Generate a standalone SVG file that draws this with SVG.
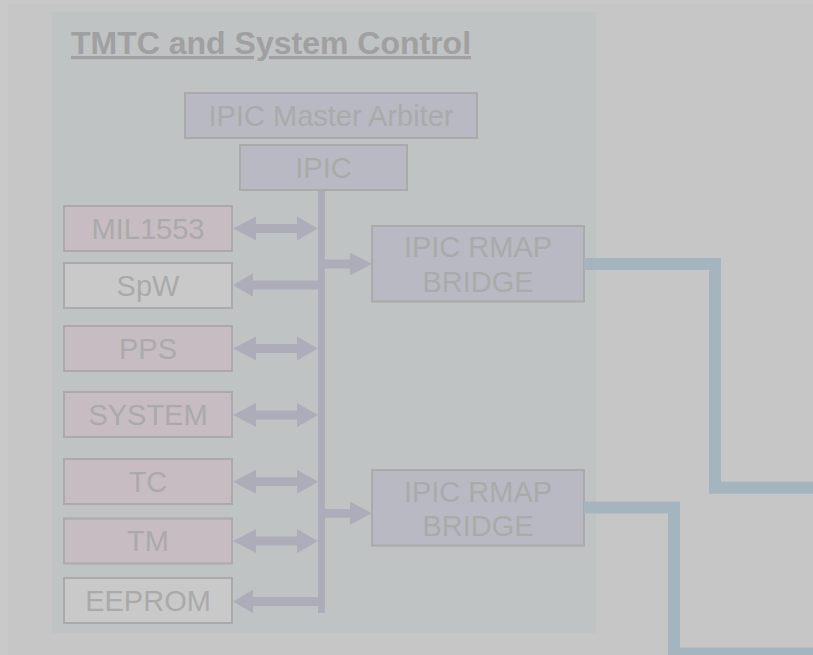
<svg xmlns="http://www.w3.org/2000/svg" width="813" height="655" viewBox="0 0 813 655">
  <style>
    .box { stroke: #aaaaaa; stroke-width: 2; }
    .ipic { fill: #b9b9c3; }
    .pink { fill: #c7bcc1; }
    .plain { fill: #c9c9c9; }
    .lbl { font-family: "Liberation Sans", Arial, sans-serif; font-size: 29px; fill: #aaaaaa; text-anchor: middle; }
    .title { font-family: "Liberation Sans", Arial, sans-serif; font-size: 32px; font-weight: bold; fill: #a0a0a0; text-decoration: underline; }
    .arrow { fill: #adadb9; }
    .link { fill: none; stroke: #a5b5c0; stroke-width: 12; stroke-linejoin: miter; }
  </style>
  <defs>
    <!-- arrow shapes centred on y = 0 -->
    <path id="both" d="M233,0 L256,-12 L256,-4.4 L297,-4.4 L297,-12 L318,0 L297,12 L297,4.4 L256,4.4 L256,12 Z"/>
    <path id="left" d="M233,0 L253,-11.7 L253,-4.4 L319,-4.4 L319,4.4 L253,4.4 L253,11.7 Z"/>
    <path id="right" d="M324,-4.4 L350,-4.4 L350,-11.5 L372,0 L350,11.5 L350,4.4 L324,4.4 Z"/>
  </defs>

  <!-- page background -->
  <rect x="0" y="0" width="813" height="655" fill="#c9c9c9"/>
  <rect x="8" y="4" width="805" height="651" fill="#c6c6c6"/>

  <!-- subsystem panel -->
  <g id="panel">
    <rect x="52" y="12" width="544" height="621" fill="#bfc3c3"/>
    <text class="title" x="71" y="54">TMTC and System Control</text>
  </g>

  <g id="master-arbiter">
    <rect class="box ipic" x="185" y="93" width="292" height="45"/>
    <text class="lbl" x="331" y="126">IPIC Master Arbiter</text>
  </g>
  <g id="ipic">
    <rect class="box ipic" x="240" y="145" width="167" height="45"/>
    <text class="lbl" x="323.5" y="178">IPIC</text>
  </g>

  <g id="mil1553">
    <rect class="box pink" x="64" y="206" width="168" height="45"/>
    <text class="lbl" x="148" y="238.5">MIL1553</text>
  </g>
  <g id="spw">
    <rect class="box plain" x="64" y="263" width="168" height="45"/>
    <text class="lbl" x="148" y="295.5">SpW</text>
  </g>
  <g id="pps">
    <rect class="box pink" x="64" y="326" width="168" height="45"/>
    <text class="lbl" x="148" y="358.5">PPS</text>
  </g>
  <g id="system">
    <rect class="box pink" x="64" y="392" width="168" height="45"/>
    <text class="lbl" x="148" y="424.5">SYSTEM</text>
  </g>
  <g id="tc">
    <rect class="box pink" x="64" y="459" width="168" height="45"/>
    <text class="lbl" x="148" y="491.5">TC</text>
  </g>
  <g id="tm">
    <rect class="box pink" x="64" y="518.5" width="168" height="45"/>
    <text class="lbl" x="148" y="551">TM</text>
  </g>
  <g id="eeprom">
    <rect class="box plain" x="64" y="578" width="168" height="45"/>
    <text class="lbl" x="148" y="610.5">EEPROM</text>
  </g>

  <g id="rmap-bridge-1">
    <rect class="box ipic" x="372" y="226" width="212" height="75.5"/>
    <text class="lbl" x="478" y="256.5">IPIC RMAP</text>
    <text class="lbl" x="478" y="292">BRIDGE</text>
  </g>
  <g id="rmap-bridge-2">
    <rect class="box ipic" x="372" y="470" width="212" height="75.5"/>
    <text class="lbl" x="478" y="501.5">IPIC RMAP</text>
    <text class="lbl" x="478" y="536">BRIDGE</text>
  </g>

  <g id="connectors">
    <!-- internal IPIC bus -->
    <rect class="arrow" x="318" y="191" width="7" height="422"/>
    <use href="#both" class="arrow" transform="translate(0,228.5)"/>
    <use href="#left" class="arrow" transform="translate(0,285)"/>
    <use href="#both" class="arrow" transform="translate(0,348.5)"/>
    <use href="#both" class="arrow" transform="translate(0,415)"/>
    <use href="#both" class="arrow" transform="translate(0,481.7)"/>
    <use href="#both" class="arrow" transform="translate(0,541)"/>
    <use href="#left" class="arrow" transform="translate(0,601.5)"/>
    <use href="#right" class="arrow" transform="translate(0,264)"/>
    <use href="#right" class="arrow" transform="translate(0,513.3)"/>
    <!-- outgoing RMAP links -->
    <polyline class="link" points="584,264 715,264 715,487.7 813,487.7"/>
    <polyline class="link" points="584,507.5 674,507.5 674,653.7 813,653.7"/>
  </g>
</svg>
